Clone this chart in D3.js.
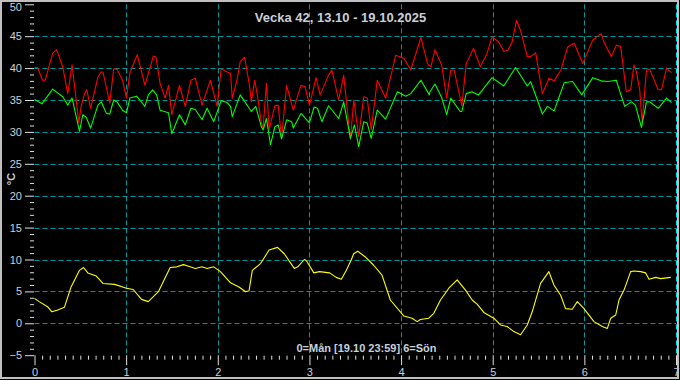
<!DOCTYPE html>
<html><head><meta charset="utf-8">
<script src="https://cdn.jsdelivr.net/npm/d3@7"></script>
<style>html,body{margin:0;padding:0;background:#000;}svg{display:block;}</style>
</head><body>
<svg id="chart" width="680" height="380"></svg>
<script>
const title = "Vecka 42, 13.10 - 19.10.2025";
const xLabel = "0=Mån [19.10 23:59] 6=Sön";
const yLabel = "°C";
const xTicks = [0,1,2,3,4,5,6,7];
const yTicks = [-5,0,5,10,15,20,25,30,35,40,45,50];

// [day, °C]
const redSeries = [[0,40.1],[0.033,40.1],[0.088,38.1],[0.117,38.1],[0.198,42.3],[0.242,42.9],[0.308,40.2],[0.363,36.0],[0.410,40.5],[0.484,31.4],[0.509,34.0],[0.546,36.0],[0.571,36.6],[0.612,33.7],[0.692,38.6],[0.729,39.4],[0.747,39.4],[0.821,34.5],[0.864,39.9],[0.901,39.8],[0.960,38.1],[1.004,35.3],[1.040,39.2],[1.121,42.1],[1.205,37.3],[1.297,41.9],[1.326,41.7],[1.370,37.6],[1.425,35.3],[1.462,37.3],[1.498,32.7],[1.582,37.3],[1.645,34.0],[1.707,38.1],[1.755,38.4],[1.828,34.2],[1.919,38.1],[1.993,34.0],[2.037,39.9],[2.103,39.4],[2.139,39.2],[2.158,35.3],[2.209,38.1],[2.245,41.0],[2.293,41.7],[2.348,37.1],[2.366,34.7],[2.403,38.1],[2.429,36.0],[2.476,31.4],[2.495,30.6],[2.531,37.6],[2.560,30.3],[2.623,34.1],[2.659,34.2],[2.696,29.0],[2.751,37.3],[2.824,33.4],[2.908,37.3],[2.952,37.1],[3.000,34.2],[3.073,38.5],[3.117,35.8],[3.209,38.9],[3.245,39.7],[3.319,35.0],[3.374,38.9],[3.447,28.8],[3.484,35.0],[3.538,29.3],[3.593,35.5],[3.630,35.3],[3.674,30.3],[3.740,38.1],[3.832,35.3],[3.941,42.0],[4.033,41.5],[4.106,39.7],[4.216,44.8],[4.289,40.7],[4.326,40.2],[4.370,42.9],[4.443,40.5],[4.498,35.3],[4.542,39.7],[4.579,39.7],[4.663,34.1],[4.711,40.7],[4.791,43.1],[4.864,40.2],[4.938,42.3],[4.993,44.9],[5.066,44.1],[5.121,42.6],[5.165,42.8],[5.212,44.1],[5.260,47.5],[5.304,45.9],[5.377,41.8],[5.414,41.8],[5.469,42.4],[5.542,36.0],[5.615,38.4],[5.670,38.0],[5.744,39.7],[5.817,43.3],[5.890,43.9],[5.982,40.7],[6.092,44.4],[6.183,45.4],[6.220,43.9],[6.293,41.8],[6.348,43.6],[6.396,43.4],[6.458,36.3],[6.505,36.6],[6.542,40.5],[6.568,39.4],[6.604,36.6],[6.630,31.4],[6.678,39.7],[6.714,39.8],[6.806,36.6],[6.842,36.6],[6.897,40.0],[6.952,39.3]];

const greenSeries = [[0,35.1],[0.081,34.4],[0.198,36.7],[0.308,35.5],[0.363,34.2],[0.410,35.3],[0.491,30.1],[0.527,32.7],[0.564,32.3],[0.612,30.6],[0.692,34.2],[0.729,34.7],[0.784,32.9],[0.821,32.8],[0.864,35.0],[0.901,34.7],[0.960,33.4],[1.004,33.0],[1.040,35.3],[1.114,35.6],[1.205,34.0],[1.242,35.8],[1.289,36.6],[1.333,35.8],[1.370,33.4],[1.462,33.0],[1.498,29.7],[1.582,32.7],[1.645,31.1],[1.707,33.7],[1.755,33.5],[1.828,31.9],[1.883,33.7],[1.956,31.6],[2.037,34.9],[2.103,34.6],[2.139,34.0],[2.158,32.4],[2.245,35.8],[2.366,33.2],[2.414,34.0],[2.476,30.8],[2.495,30.3],[2.531,32.1],[2.575,28.0],[2.623,30.8],[2.659,31.1],[2.696,28.9],[2.751,31.9],[2.806,31.6],[2.824,30.6],[2.908,32.9],[3.000,31.4],[3.051,33.9],[3.088,33.7],[3.136,31.6],[3.209,34.1],[3.319,32.1],[3.374,34.7],[3.447,29.0],[3.491,31.1],[3.538,27.7],[3.593,31.6],[3.630,31.4],[3.674,29.0],[3.740,33.4],[3.832,32.0],[3.960,36.3],[4.051,35.6],[4.106,36.0],[4.216,38.1],[4.308,35.8],[4.315,36.3],[4.370,37.5],[4.443,35.4],[4.498,32.7],[4.542,35.3],[4.645,33.2],[4.663,33.2],[4.711,36.0],[4.773,36.3],[4.846,35.8],[4.993,38.5],[5.121,37.2],[5.249,40.1],[5.377,37.2],[5.414,37.9],[5.542,32.8],[5.597,34.0],[5.670,33.3],[5.780,37.7],[5.872,37.9],[5.971,35.8],[6.092,38.5],[6.183,38.0],[6.256,37.9],[6.348,38.1],[6.440,34.0],[6.513,34.7],[6.557,34.2],[6.623,30.7],[6.678,34.7],[6.714,34.7],[6.806,33.7],[6.897,35.3],[6.952,34.6]];

const yellowSeries = [[0,3.9],[0.051,3.4],[0.143,2.6],[0.190,1.8],[0.253,2.1],[0.326,2.5],[0.399,5.7],[0.491,8.3],[0.535,8.75],[0.582,7.9],[0.674,7.4],[0.747,6.25],[0.875,6.1],[1.004,5.5],[1.077,5.3],[1.168,3.75],[1.242,3.4],[1.352,4.95],[1.480,8.75],[1.553,8.85],[1.626,9.2],[1.681,8.95],[1.755,8.6],[1.828,8.85],[1.883,8.6],[1.956,8.85],[2.029,8.1],[2.139,6.35],[2.231,5.7],[2.304,4.95],[2.341,5.1],[2.377,8.3],[2.469,9.4],[2.560,11.5],[2.652,11.9],[2.725,10.9],[2.835,8.6],[2.872,8.85],[2.945,10.0],[2.967,9.8],[3.048,7.9],[3.110,8.1],[3.220,7.9],[3.293,7.2],[3.348,6.9],[3.403,8.3],[3.458,10.0],[3.483,10.9],[3.527,11.3],[3.610,10.4],[3.701,9.1],[3.792,7.55],[3.883,3.65],[4.029,1.15],[4.120,0.8],[4.175,0.26],[4.211,0.6],[4.302,0.8],[4.357,1.56],[4.430,3.65],[4.521,5.5],[4.612,6.8],[4.703,5.2],[4.776,3.65],[4.830,3.0],[4.903,1.7],[5.012,0.8],[5.085,-0.26],[5.158,-0.5],[5.231,-1.3],[5.304,-1.8],[5.377,-0.26],[5.431,1.8],[5.522,6.25],[5.613,8.1],[5.668,6.0],[5.741,4.4],[5.795,2.3],[5.868,2.2],[5.923,3.4],[5.996,2.3],[6.105,0.26],[6.196,-0.5],[6.251,-0.8],[6.287,0.78],[6.342,1.3],[6.378,3.65],[6.433,5.2],[6.505,8.1],[6.542,8.2],[6.615,8.1],[6.669,7.9],[6.706,6.9],[6.779,7.2],[6.833,7.0],[6.943,7.2]];

const svg = d3.select("#chart");
const W = 680, H = 380;
const x = d3.scaleLinear().domain([0,7]).range([34.5,676]);
const y = d3.scaleLinear().domain([-5,50]).range([355.2,4.3]);
const textColor = "#c8d0dc";
const gridColor = "#009a9a";
const font = "Arial, Liberation Sans, sans-serif";

svg.append("rect").attr("width",W).attr("height",H).attr("fill","#000");

// grid
const g = svg.append("g");
g.selectAll("line.h").data(yTicks.filter(v=>v>-5 && v<50)).join("line")
  .attr("x1",x(0)).attr("x2",x(7)).attr("y1",d=>Math.round(y(d))+0.5).attr("y2",d=>Math.round(y(d))+0.5)
  .attr("stroke",gridColor).attr("stroke-dasharray","5,3");
g.selectAll("line.v").data(xTicks.filter(v=>v>0)).join("line")
  .attr("x1",d=>Math.round(x(d))+0.5).attr("x2",d=>Math.round(x(d))+0.5).attr("y1",y(50)).attr("y2",y(-5))
  .attr("stroke",d=>d===7?"#00e0e8":gridColor).attr("stroke-dasharray","5,3");

// axes
const minorY = d3.range(-5,51,1);
const yAxisMinor = d3.axisLeft(y).tickValues(minorY.filter(v=>v%5!==0)).tickSize(4).tickFormat("");
const yAxis = d3.axisLeft(y).tickValues(yTicks).tickSize(9).tickPadding(3).tickFormat(d3.format("d"));
const ya = svg.append("g").attr("transform",`translate(${x(0)-0.5},0)`);
ya.call(yAxisMinor);
const yb = svg.append("g").attr("transform",`translate(${x(0)-0.5},0)`).call(yAxis);
[ya,yb].forEach(a=>{a.select(".domain").remove();a.selectAll("line").attr("stroke","#e0e0e0");});
yb.selectAll("text").attr("fill",textColor).attr("font-family",font).attr("font-size",11)
  .attr("dy",d=>d===50?"0.55em":"0.32em");

const minorX = d3.range(0,7*12+1).map(i=>i/12).filter((v,i)=>i%12!==0);
const xAxisMinor = d3.axisBottom(x).tickValues(minorX).tickSize(4).tickFormat("");
const xAxis = d3.axisBottom(x).tickValues(xTicks).tickSize(10).tickPadding(3).tickFormat(d3.format("d"));
const xa = svg.append("g").attr("transform",`translate(0,${y(-5)+0.5})`).call(xAxisMinor);
const xb = svg.append("g").attr("transform",`translate(0,${y(-5)})`).call(xAxis);
[xa,xb].forEach(a=>{a.select(".domain").remove();a.selectAll("line").attr("stroke","#e0e0e0");});
xb.selectAll("text").attr("fill",textColor).attr("font-family",font).attr("font-size",11);

// lines
const line = d3.line().x(d=>x(d[0])).y(d=>y(d[1]));
[[yellowSeries,"#ffff00"],[redSeries,"#ff0000"],[greenSeries,"#00ff00"]].forEach(([data,col])=>{
  svg.append("path").datum(data).attr("d",line).attr("fill","none")
    .attr("stroke",col).attr("stroke-width",1.1).attr("stroke-linejoin","round");
});

// texts
svg.append("text").attr("x",340.5).attr("y",22).attr("text-anchor","middle")
  .attr("fill",textColor).attr("font-family",font)
  .attr("font-weight","bold").attr("font-size",13).text(title);
svg.append("text").attr("x",366.5).attr("y",352).attr("text-anchor","middle")
  .attr("fill",textColor).attr("font-family",font)
  .attr("font-weight","bold").attr("font-size",11).text(xLabel);
svg.append("text").attr("transform","translate(15,179) rotate(-90)").attr("text-anchor","middle")
  .attr("fill",textColor).attr("font-family",font)
  .attr("font-weight","bold").attr("font-size",11).text(yLabel);

// frame
svg.append("rect").attr("x",1).attr("y",1).attr("width",W-3).attr("height",H-3)
  .attr("fill","none").attr("stroke","#c0c0c0").attr("stroke-width",2);
</script>
</body></html>
